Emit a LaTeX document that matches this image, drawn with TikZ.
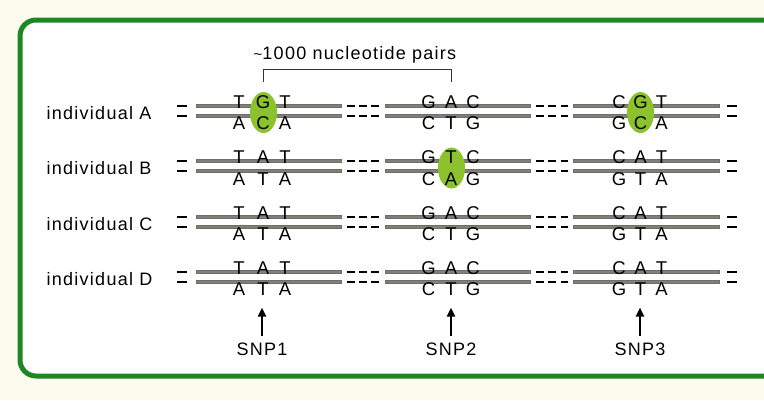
\documentclass[tikz,border=0pt]{standalone}
\usepackage{fontspec}
\setmainfont[LetterSpace=7]{Liberation Sans}
\usetikzlibrary{arrows.meta,shapes.geometric}
\definecolor{frame}{RGB}{30,135,35}
\definecolor{snpgreen}{RGB}{140,195,45}
\definecolor{cream}{RGB}{251,251,238}
\definecolor{strandc}{RGB}{112,110,104}
\definecolor{strandl}{RGB}{128,127,122}
\newfontfamily\basefont{Liberation Sans}
\def\getthree#1#2#3\relax{\def\ga{#1}\def\gb{#2}\def\gc{#3}}
\tikzset{
  lbl/.style={inner sep=0pt, anchor=base west, font=\fontsize{18}{20}\selectfont},
  snplbl/.style={inner sep=0pt, anchor=base, font=\fontsize{18}{20}\selectfont},
  basel/.style={inner sep=0pt, anchor=base, font=\basefont\fontsize{18.5}{20}\selectfont},
  strand/.style={line width=4.6pt, draw=strandc},
  strandhi/.style={line width=1.4pt, draw=strandl},
  gap/.style={line width=1.8pt, draw=black, dash pattern=on 7.8pt off 4.5pt},
  endbar/.style={line width=1.8pt, draw=black},
  snpmark/.style={fill=snpgreen, draw=none, ellipse, minimum width=27pt, minimum height=41pt, inner sep=0pt},
  snparrow/.style={line width=2.4pt, -{Triangle[length=9pt,width=8pt]}},
  bracket/.style={line width=0.9pt, draw=black!80}
}
\begin{document}
\begin{tikzpicture}[x=1pt,y=-1pt]
\useasboundingbox (0,0) rectangle (764,400);
\fill[cream] (0,0) rectangle (764,400);
\fill[white, rounded corners=16pt] (768,20) -- (20,20) -- (20,376) -- (768,376) -- cycle;
\draw[frame, line width=5pt, rounded corners=16pt] (770,20) -- (20,20) -- (20,376) -- (770,376);
% bracket and label
\node[snplbl] (np) at (355,59.3) {{\fontsize{15}{16}\selectfont\textasciitilde}1000 nucleotide pairs};
\coordinate (bl) at (263,82);
\coordinate (br) at (451,82);
\draw[bracket] (bl) -- (263,69) -- (451,69) -- (br);
% rows
\foreach \rr/\yy/\lab in {1/106/A, 2/161/B, 3/217/C, 4/272/D}{
  \pgfmathsetmacro{\yl}{\yy+10}
  \node[lbl] (lab\rr) at (46.5,\yy+13.3) {individual \lab};
  \coordinate (l\rr u) at (177,\yy); \coordinate (l\rr v) at (187,\yy);
  \coordinate (l\rr x) at (177,\yl); \coordinate (l\rr y) at (187,\yl);
  \draw[endbar] (l\rr u) -- (l\rr v); \draw[endbar] (l\rr x) -- (l\rr y);
  \coordinate (r\rr u) at (727,\yy); \coordinate (r\rr v) at (737,\yy);
  \coordinate (r\rr x) at (727,\yl); \coordinate (r\rr y) at (737,\yl);
  \draw[endbar] (r\rr u) -- (r\rr v); \draw[endbar] (r\rr x) -- (r\rr y);
  \foreach \pa/\pb in {196/342, 385/531, 573/720}{
    \draw[strand] (\pa,\yy) -- (\pb,\yy);
    \draw[strand] (\pa,\yl) -- (\pb,\yl);
    \draw[strandhi] (\pa+1,\yy) -- (\pb-1,\yy);
    \draw[strandhi] (\pa+1,\yl) -- (\pb-1,\yl);
  }
  \foreach \pa/\pb in {346.7/380, 536/568.5}{
    \draw[gap] (\pa,\yy) -- (\pb,\yy);
    \draw[gap] (\pa,\yl) -- (\pb,\yl);
  }
}
% SNP highlights
\node[snpmark] (hA1) at (263.5,112.5) {};
\node[snpmark] (hB2) at (451.5,168) {};
\node[snpmark] (hA3) at (640.5,112.5) {};
% bases
\foreach \rr/\yy/\sa/\sb/\sc/\ba/\bb/\bc in {
  1/106/TGT/GAC/CGT/ACA/CTG/GCA,
  2/161.5/TAT/GTC/CAT/ATA/CAG/GTA,
  3/217/TAT/GAC/CAT/ATA/CTG/GTA,
  4/272.3/TAT/GAC/CAT/ATA/CTG/GTA}{
  \foreach \ss/\tp/\bt/\xa/\xb/\xc in {1/\sa/\ba/239/263/285, 2/\sb/\bb/428.5/451/473, 3/\sc/\bc/619/640.5/661.5}{
    \edef\topstr{\tp}\edef\botstr{\bt}
    \expandafter\getthree\topstr\relax
    \node[basel] (t\rr s\ss a) at (\xa,\yy+2.2) {\ga};
    \node[basel] (t\rr s\ss b) at (\xb,\yy+2.2) {\gb};
    \node[basel] (t\rr s\ss c) at (\xc,\yy+2.2) {\gc};
    \expandafter\getthree\botstr\relax
    \node[basel] (b\rr s\ss a) at (\xa,\yy+23.5) {\ga};
    \node[basel] (b\rr s\ss b) at (\xb,\yy+23.5) {\gb};
    \node[basel] (b\rr s\ss c) at (\xc,\yy+23.5) {\gc};
  }
}
% SNP labels and arrows
\foreach \ii/\xx in {1/262, 2/451, 3/640}{
  \node[snplbl] (snp\ii) at (\xx,355.7) {SNP\ii};
  \coordinate (as\ii) at (\xx,335.5);
  \coordinate (ae\ii) at (\xx,307.5);
  \draw[snparrow] (as\ii) -- (ae\ii);
}
\end{tikzpicture}
\end{document}
